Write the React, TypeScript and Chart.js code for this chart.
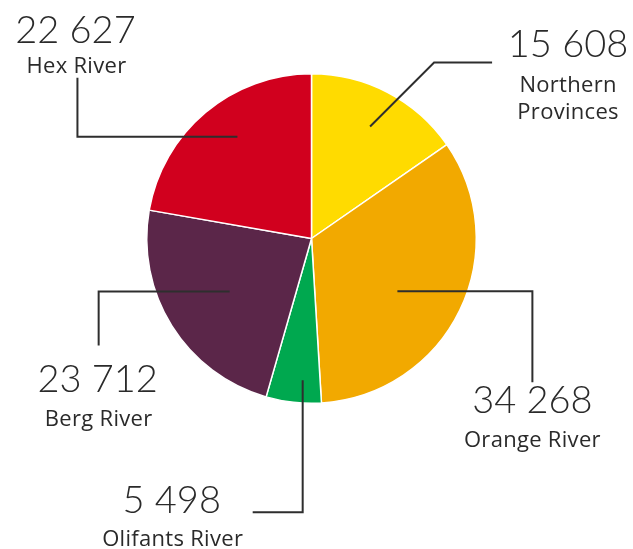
import React, { useEffect, useRef } from "react";
import { Chart, registerables } from "chart.js";

Chart.register(...registerables);

const categories = ["Northern Provinces", "Orange River", "Olifants River", "Berg River", "Hex River"];
const values = [15608, 34268, 5498, 23712, 22627];
const valueLabels = ["15 608", "34 268", "5 498", "23 712", "22 627"];
const nameLines = [["Northern", "Provinces"], ["Orange River"], ["Olifants River"], ["Berg River"], ["Hex River"]];
const colors = ["#ffdb00", "#f2a900", "#00a84f", "#5b2649", "#d1001e"];

// leader-line styling per slice: anchor (radius fraction, angle tweak in degrees),
// elbow offsets from anchor, and text offsets from anchor
const leaderStyles = [
  { frac: 0.767, dAng: 0, path: [[64, -64], [122, -64]], num: [198, -70], names: [[198, -35], [198, -8]] },
  { frac: 0.612, dAng: 5.7, path: [[135, 0], [135, 91]], num: [135, 122], names: [[135, 156]] },
  { frac: 0.862, dAng: -2.7, path: [[0, 132], [-50, 132]], num: [-131, 133], names: [[-130, 166]] },
  { frac: 0.592, dAng: -0.9, path: [[-131, 0], [-131, 54]], num: [-132, 100], names: [[-131, 134]] },
  { frac: 0.764, dAng: 4, path: [[-160, 0], [-160, -59]], num: [-162, -94], names: [[-161, -64]] },
];

const leaderPlugin = {
  id: "leaders",
  afterDraw(chart: any) {
    const ctx = chart.ctx;
    const meta = chart.getDatasetMeta(0);
    meta.data.forEach((arc: any, i: number) => {
      const p = arc.getProps(["x", "y", "startAngle", "endAngle", "outerRadius"], true);
      const st = leaderStyles[i];
      const mid = (p.startAngle + p.endAngle) / 2 + (st.dAng * Math.PI) / 180;
      const ax = p.x + Math.cos(mid) * p.outerRadius * st.frac;
      const ay = p.y + Math.sin(mid) * p.outerRadius * st.frac;
      ctx.save();
      ctx.strokeStyle = "#2e2e2e";
      ctx.lineWidth = 2;
      ctx.beginPath();
      ctx.moveTo(ax, ay);
      st.path.forEach(([dx, dy]) => ctx.lineTo(ax + dx, ay + dy));
      ctx.stroke();
      ctx.fillStyle = "#2a2a2a";
      ctx.textAlign = "center";
      ctx.textBaseline = "alphabetic";
      ctx.font = "300 38px Lato";
      ctx.fillText(valueLabels[i], ax + st.num[0], ay + st.num[1]);
      ctx.font = "400 22px 'Open Sans'";
      try { (ctx as any).letterSpacing = "0.3px"; } catch (e) {}
      nameLines[i].forEach((line, j) => {
        const [dx, dy] = st.names[j];
        ctx.fillText(line, ax + dx, ay + dy);
      });
      ctx.restore();
    });
  },
};

export default function App() {
  const ref = useRef<HTMLCanvasElement | null>(null);
  useEffect(() => {
    document.body.style.margin = "0";
    const chart = new Chart(ref.current as HTMLCanvasElement, {
      type: "pie",
      data: {
        labels: categories,
        datasets: [
          {
            data: values,
            backgroundColor: colors,
            borderColor: "#ffffff",
            borderWidth: 1.5,
          },
        ],
      },
      options: {
        animation: false,
        responsive: false,
        layout: { padding: { left: 146, right: 156, top: 73, bottom: 145 } },
        plugins: { legend: { display: false }, tooltip: { enabled: false } },
      },
      plugins: [leaderPlugin],
    });
    return () => chart.destroy();
  }, []);
  return <canvas ref={ref} width={633} height={549} style={{ display: "block" }} />;
}
